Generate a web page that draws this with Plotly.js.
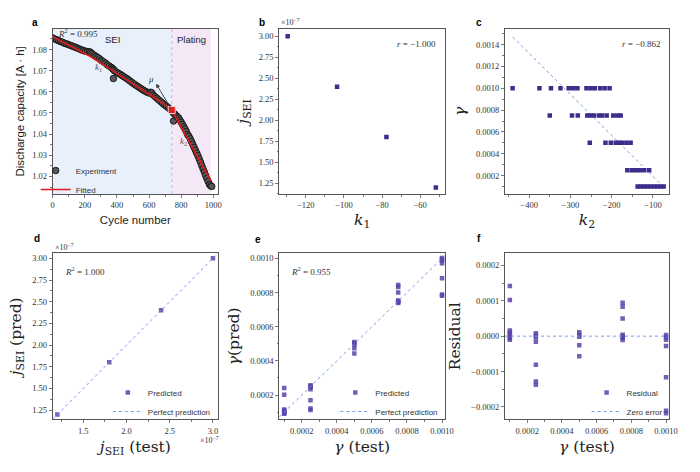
<!DOCTYPE html>
<html>
<head>
<meta charset="utf-8">
<script src="https://cdn.plot.ly/plotly-3.0.1.min.js"></script>
<style>
  html, body { margin: 0; padding: 0; background: #fff; }
  #chart { width: 700px; height: 472px; }
</style>
</head>
<body>
<div id="chart"></div>
<script>
// --- panel a: capacity fade ---
var cycles = [0, 12, 24, 36, 48, 60, 72, 84, 96, 108, 120, 132, 144, 156, 168, 180, 192, 204, 216, 228,
  236, 244, 256, 268, 280, 292, 304, 316, 328, 340, 352, 364, 372, 378, 378, 384, 396, 408, 420, 432,
  444, 456, 468, 480, 492, 504, 516, 528, 540, 552, 564, 576, 588, 600, 608, 616, 624, 636, 648, 660,
  672, 684, 696, 708, 720, 730, 738, 746, 752, 752, 760, 768, 776, 784, 792, 800, 808, 816, 824, 832,
  840, 848, 856, 864, 872, 880, 888, 896, 904, 912, 920, 928, 936, 944, 952, 960, 968, 976, 984, 990];
var capacity = [1.0855, 1.0850, 1.0846, 1.0842, 1.0838, 1.0835, 1.0830, 1.0827, 1.0824, 1.0820,
  1.0817, 1.0813, 1.0810, 1.0806, 1.0802, 1.0798, 1.0795, 1.0792, 1.0790, 1.0790,
  1.0786, 1.0781, 1.0774, 1.0768, 1.0762, 1.0756, 1.0748, 1.0742, 1.0736, 1.0728,
  1.0722, 1.0716, 1.0710, 1.0706, 1.0663, 1.0700, 1.0694, 1.0688, 1.0683, 1.0677,
  1.0671, 1.0665, 1.0659, 1.0652, 1.0645, 1.0638, 1.0632, 1.0626, 1.0620, 1.0614,
  1.0608, 1.0603, 1.0598, 1.0594, 1.0598, 1.0596, 1.0586, 1.0578, 1.0570, 1.0562,
  1.0554, 1.0546, 1.0538, 1.0532, 1.0525, 1.0518, 1.0512, 1.0506, 1.0462, 1.0500,
  1.0494, 1.0488, 1.0482, 1.0476, 1.0466, 1.0456, 1.0446, 1.0435, 1.0424, 1.0412,
  1.0398, 1.0390, 1.0378, 1.0365, 1.0352, 1.0338, 1.0325, 1.0311, 1.0298, 1.0283,
  1.0268, 1.0252, 1.0236, 1.0221, 1.0205, 1.0190, 1.0176, 1.0162, 1.0155, 1.0153];
var fitCycles = [0, 232, 378, 544, 689, 741, 986];
var fitCapacity = [1.0860, 1.0768, 1.0698, 1.0618, 1.0545, 1.0514, 1.0178];
var kneeCycle = [741];
var kneeCapacity = [1.0514];
var seiEnd = 741, platingEnd = 984;

// --- panel b ---
var k1 = [-129.5, -103.6, -77.7, -51.8];
var jSEI = [3.00, 2.40, 1.80, 1.20];          // x 1e-7

// --- panel c ---
var k2 = [-440, -375, -347, -324, -304, -293, -283, -261, -251, -241, -228, -217, -205,
  -350, -296, -282, -259, -251, -243, -231, -223, -212, -196, -186, -178,
  -253, -215, -202, -190, -182, -174, -164, -154,
  -162, -151, -141, -132, -121, -109,
  -137, -129, -121, -113, -105, -97, -89, -81, -74];
var gammaC = [0.001, 0.001, 0.001, 0.001, 0.001, 0.001, 0.001, 0.001, 0.001, 0.001, 0.001, 0.001, 0.001,
  0.00075, 0.00075, 0.00075, 0.00075, 0.00075, 0.00075, 0.00075, 0.00075, 0.00075, 0.00075, 0.00075, 0.00075,
  0.0005, 0.0005, 0.0005, 0.0005, 0.0005, 0.0005, 0.0005, 0.0005,
  0.00025, 0.00025, 0.00025, 0.00025, 0.00025, 0.00025,
  0.0001, 0.0001, 0.0001, 0.0001, 0.0001, 0.0001, 0.0001, 0.0001, 0.0001];
var trendK2 = [-440, -82];
var trendGamma = [0.00147, 0.000126];

// --- panel d ---
var jTest = [1.20, 1.80, 2.40, 3.00];          // x 1e-7
var jPred = [1.20, 1.80, 2.40, 3.00];
var jIdeal = [1.146, 3.058];

// --- panels e, f ---
var gammaTest = [0.0001, 0.0001, 0.0001, 0.0001, 0.0001, 0.0001, 0.0001, 0.0001,
  0.00025, 0.00025, 0.00025, 0.00025, 0.00025, 0.00025, 0.00025,
  0.0005, 0.0005, 0.0005, 0.0005, 0.0005,
  0.00075, 0.00075, 0.00075, 0.00075, 0.00075, 0.00075, 0.00075,
  0.001, 0.001, 0.001, 0.001, 0.001, 0.001, 0.001];
var gammaPred = [0.000242, 0.000202, 0.000116, 0.000110, 0.000105, 0.000100, 0.000095, 0.000090,
  0.000258, 0.000252, 0.000246, 0.000234, 0.000169, 0.000122, 0.000113,
  0.000511, 0.000503, 0.000498, 0.000474, 0.000443,
  0.000844, 0.000833, 0.000800, 0.000754, 0.000750, 0.000745, 0.000739,
  0.001003, 0.000997, 0.000990, 0.000972, 0.000884, 0.000789, 0.000782];
var residual = [0.000142, 0.000102, 0.000016, 0.000010, 0.000005, 0.000000, -0.000005, -0.000010,
  0.000008, 0.000002, -0.000004, -0.000016, -0.000081, -0.000128, -0.000137,
  0.000011, 0.000003, -0.000002, -0.000026, -0.000057,
  0.000094, 0.000083, 0.000050, 0.000004, 0.000000, -0.000005, -0.000011,
  0.000003, -0.000003, -0.000010, -0.000028, -0.000116, -0.000211, -0.000218];
var gammaIdeal = [0.000072, 0.001017];
var zeroLine = [0, 0];

var serif = 'Liberation Serif, serif';
var sans = 'Liberation Sans, Arial, sans-serif';
var bigSerif = 'DejaVu Serif, serif';
var purple = 'rgb(62,44,140)';
var purpleSoft = 'rgba(88,68,168,0.85)';
var dotBlue = '#6f9ff0';

var colX = [[0.0753, 0.3114], [0.399, 0.6357], [0.7214, 0.9557]];
var rowY = [[0.589, 0.939], [0.1116, 0.4633]];

function axis(domain, anchor, range, dtick, fmt, title) {
    return {
        domain: domain, anchor: anchor, range: range,
        dtick: dtick, tick0: 0, tickformat: fmt,
        showgrid: false, zeroline: false,
        showline: true, mirror: true, linecolor: '#555', linewidth: 1,
        ticks: 'outside', ticklen: 3, tickwidth: 0.8, tickcolor: '#555',
        minor: { dtick: dtick / 2, ticks: 'outside', ticklen: 1.8, tickcolor: '#555' },
        tickfont: { family: serif, size: 8.5, color: '#333' },
        title: title
    };
}

var traces = [
    // a
    { x: cycles, y: capacity, type: 'scatter', mode: 'markers', name: 'Experiment',
      xaxis: 'x', yaxis: 'y', legend: 'legend',
      marker: { size: 6.5, color: 'rgb(88,88,88)', line: { color: '#111', width: 0.9 } } },
    { x: fitCycles, y: fitCapacity, type: 'scatter', mode: 'lines', name: 'Fitted',
      xaxis: 'x', yaxis: 'y', legend: 'legend',
      line: { color: '#e41a1c', width: 1.6 } },
    { x: kneeCycle, y: kneeCapacity, type: 'scatter', mode: 'markers', showlegend: false,
      xaxis: 'x', yaxis: 'y',
      marker: { symbol: 'square', size: 7, color: '#e41a1c', line: { color: '#f6d0d0', width: 1 } } },
    // b
    { x: k1, y: jSEI, type: 'scatter', mode: 'markers', showlegend: false,
      xaxis: 'x2', yaxis: 'y2',
      marker: { symbol: 'square', size: 4.5, color: purple } },
    // c
    { x: trendK2, y: trendGamma, type: 'scatter', mode: 'lines', showlegend: false,
      xaxis: 'x3', yaxis: 'y3', line: { color: dotBlue, width: 1, dash: 'dot' } },
    { x: k2, y: gammaC, type: 'scatter', mode: 'markers', showlegend: false,
      xaxis: 'x3', yaxis: 'y3',
      marker: { symbol: 'square', size: 4.5, color: purple } },
    // d
    { x: jTest, y: jPred, type: 'scatter', mode: 'markers', name: 'Predicted',
      xaxis: 'x4', yaxis: 'y4', legend: 'legend2',
      marker: { symbol: 'square', size: 4.5, color: purpleSoft } },
    { x: jIdeal, y: jIdeal, type: 'scatter', mode: 'lines', name: 'Perfect prediction',
      xaxis: 'x4', yaxis: 'y4', legend: 'legend2',
      line: { color: dotBlue, width: 1, dash: 'dot' } },
    // e
    { x: gammaTest, y: gammaPred, type: 'scatter', mode: 'markers', name: 'Predicted',
      xaxis: 'x5', yaxis: 'y5', legend: 'legend3',
      marker: { symbol: 'square', size: 4.5, color: purpleSoft } },
    { x: gammaIdeal, y: gammaIdeal, type: 'scatter', mode: 'lines', name: 'Perfect prediction',
      xaxis: 'x5', yaxis: 'y5', legend: 'legend3',
      line: { color: dotBlue, width: 1, dash: 'dot' } },
    // f
    { x: gammaTest, y: residual, type: 'scatter', mode: 'markers', name: 'Residual',
      xaxis: 'x6', yaxis: 'y6', legend: 'legend4',
      marker: { symbol: 'square', size: 4.5, color: purpleSoft } },
    { x: gammaIdeal, y: zeroLine, type: 'scatter', mode: 'lines', name: 'Zero error',
      xaxis: 'x6', yaxis: 'y6', legend: 'legend4',
      line: { color: dotBlue, width: 1, dash: 'dot' } }
];

function legendAt(x, y) {
    return {
        x: x, y: y, xanchor: 'left', yanchor: 'top', xref: 'paper', yref: 'paper',
        bgcolor: 'rgba(0,0,0,0)', borderwidth: 0, tracegroupgap: 0,
        itemwidth: 30, font: { family: sans, size: 8, color: '#333' }
    };
}

function note(xref, yref, x, y, text, font, extra) {
    var a = { xref: xref, yref: yref, x: x, y: y, text: text, showarrow: false, font: font };
    return Object.assign(a, extra || {});
}

var fNote = { family: serif, size: 9, color: '#333' };
var fLetter = { family: sans, size: 10, color: '#000', weight: 'bold' };
var fBigTitle = { family: bigSerif, size: 15.5, color: '#222' };
var fSansTitle = { family: sans, size: 11.5, color: '#222' };
var fOffset = { family: serif, size: 8, color: '#333' };

var annotations = [
    note('paper', 'paper', 30 / 700, 1 - 15 / 472, '<b>a</b>', fLetter),
    note('paper', 'paper', 262 / 700, 1 - 15 / 472, '<b>b</b>', fLetter),
    note('paper', 'paper', 484 / 700, 1 - 15 / 472, '<b>c</b>', fLetter),
    note('paper', 'paper', 32 / 700, 1 - 238 / 472, '<b>d</b>', fLetter),
    note('paper', 'paper', 258 / 700, 1 - 239 / 472, '<b>e</b>', fLetter),
    note('paper', 'paper', 483 / 700, 1 - 238 / 472, '<b>f</b>', fLetter),
    // panel a texts
    note('x', 'y', 20, 1.0878, '<i>R</i><sup>2</sup> = 0.995', fNote, { xanchor: 'left' }),
    note('x', 'y', 372, 1.0847, 'SEI', { family: sans, size: 9.5, color: '#222' }),
    note('x', 'y', 862, 1.0847, 'Plating', { family: sans, size: 9.5, color: '#222' }),
    note('x', 'y', 284, 1.0713, '<i>k</i><sub>1</sub>', { family: serif, size: 9, color: '#555' }),
    note('x', 'y', 813, 1.0366, '<i>k</i><sub>2</sub>', { family: serif, size: 9, color: '#555' }),
    note('x', 'y', 612, 1.0662, '<i>μ</i>', { family: serif, size: 9, color: '#333' }),
    { xref: 'x', yref: 'y', axref: 'x', ayref: 'y', x: 644, y: 1.0638, ax: 737, ay: 1.0520,
      text: '', showarrow: true, arrowhead: 2, arrowsize: 0.9, arrowwidth: 0.9, arrowcolor: '#333' },
    // panel b, c
    note('paper', 'paper', 279 / 700, 1 - 22 / 472, '×10<sup>−7</sup>', fOffset,
        { xanchor: 'left', yanchor: 'middle' }),
    note('x2 domain', 'y2 domain', 0.96, 0.95, '<i>r</i> = −1.000', fNote, { xanchor: 'right' }),
    note('x3 domain', 'y3 domain', 0.96, 0.95, '<i>r</i> = −0.862', fNote, { xanchor: 'right' }),
    // panel d, e
    note('x4 domain', 'y4 domain', 0.06, 0.94, '<i>R</i><sup>2</sup> = 1.000', fNote, { xanchor: 'left' }),
    note('x5 domain', 'y5 domain', 0.06, 0.94, '<i>R</i><sup>2</sup> = 0.955', fNote, { xanchor: 'left' }),
    note('paper', 'paper', 53 / 700, 1 - 247 / 472, '×10<sup>−7</sup>', fOffset,
        { xanchor: 'left', yanchor: 'middle' }),
    note('paper', 'paper', 221 / 700, 1 - 440 / 472, '×10<sup>−7</sup>', fOffset,
        { xanchor: 'right', yanchor: 'middle' })
];

var shapes = [
    { type: 'rect', xref: 'x', yref: 'y domain', x0: 0, x1: seiEnd, y0: 0, y1: 1,
      fillcolor: 'rgb(232,241,251)', line: { width: 0 }, layer: 'below' },
    { type: 'rect', xref: 'x', yref: 'y domain', x0: seiEnd, x1: platingEnd, y0: 0, y1: 1,
      fillcolor: 'rgb(244,231,246)', line: { width: 0 }, layer: 'below' },
    { type: 'line', xref: 'x', yref: 'y domain', x0: seiEnd, x1: seiEnd, y0: 0, y1: 1,
      line: { color: '#b8a6dc', width: 0.8, dash: 'dot' }, layer: 'below' }
];

var layout = {
    width: 700, height: 472,
    margin: { l: 0, r: 0, t: 0, b: 0 },
    paper_bgcolor: '#fff', plot_bgcolor: '#fff',
    showlegend: true,
    font: { family: serif, color: '#333' },
    xaxis: axis(colX[0], 'y', [0, 1029], 200, 'd',
        { text: 'Cycle number', font: fSansTitle, standoff: 6 }),
    yaxis: axis(rowY[0], 'x', [1.0117, 1.0898], 0.01, '.2f',
        { text: 'Discharge capacity [A · h]', font: fSansTitle, standoff: 5 }),
    xaxis2: axis(colX[1], 'y2', [-133.9, -47.0], 20, 'd',
        { text: '<i>k</i><sub>1</sub>', font: fBigTitle, standoff: 4 }),
    yaxis2: axis(rowY[0], 'x2', [1.123, 3.089], 0.25, '.2f',
        { text: '<i>j</i><sub>SEI</sub>', font: fBigTitle, standoff: 6 }),
    xaxis3: axis(colX[2], 'y3', [-458.5, -61], 100, 'd',
        { text: '<i>k</i><sub>2</sub>', font: fBigTitle, standoff: 4 }),
    yaxis3: axis(rowY[0], 'x3', [0.000032, 0.001544], 0.0002, '.4f',
        { text: '<i>γ</i>', font: fBigTitle, standoff: 6 }),
    xaxis4: axis(colX[0], 'y4', [1.146, 3.058], 0.5, '.1f',
        { text: '<i>j</i><sub>SEI</sub> (test)', font: fBigTitle, standoff: 6 }),
    yaxis4: axis(rowY[1], 'x4', [1.143, 3.058], 0.25, '.2f',
        { text: '<i>j</i><sub>SEI</sub> (pred)', font: fBigTitle, standoff: 6 }),
    xaxis5: axis(colX[1], 'y5', [0.000072, 0.001017], 0.0002, '.4f',
        { text: '<i>γ</i> (test)', font: fBigTitle, standoff: 6 }),
    yaxis5: axis(rowY[1], 'x5', [0.000058, 0.00103], 0.0002, '.4f',
        { text: '<i>γ</i>(pred)', font: fBigTitle, standoff: 6 }),
    xaxis6: axis(colX[2], 'y6', [0.000072, 0.001017], 0.0002, '.4f',
        { text: '<i>γ</i> (test)', font: fBigTitle, standoff: 6 }),
    yaxis6: axis(rowY[1], 'x6', [-0.000235, 0.000234], 0.0001, '.4f',
        { text: 'Residual', font: fBigTitle, standoff: 6 }),
    legend: legendAt(0.051, 1 - 156 / 472),
    legend2: legendAt(0.154, 1 - 378 / 472),
    legend3: legendAt(0.479, 1 - 378 / 472),
    legend4: legendAt(0.838, 1 - 378 / 472),
    annotations: annotations,
    shapes: shapes
};

Plotly.newPlot('chart', traces, layout, { displayModeBar: false, staticPlot: true });
</script>
</body>
</html>
